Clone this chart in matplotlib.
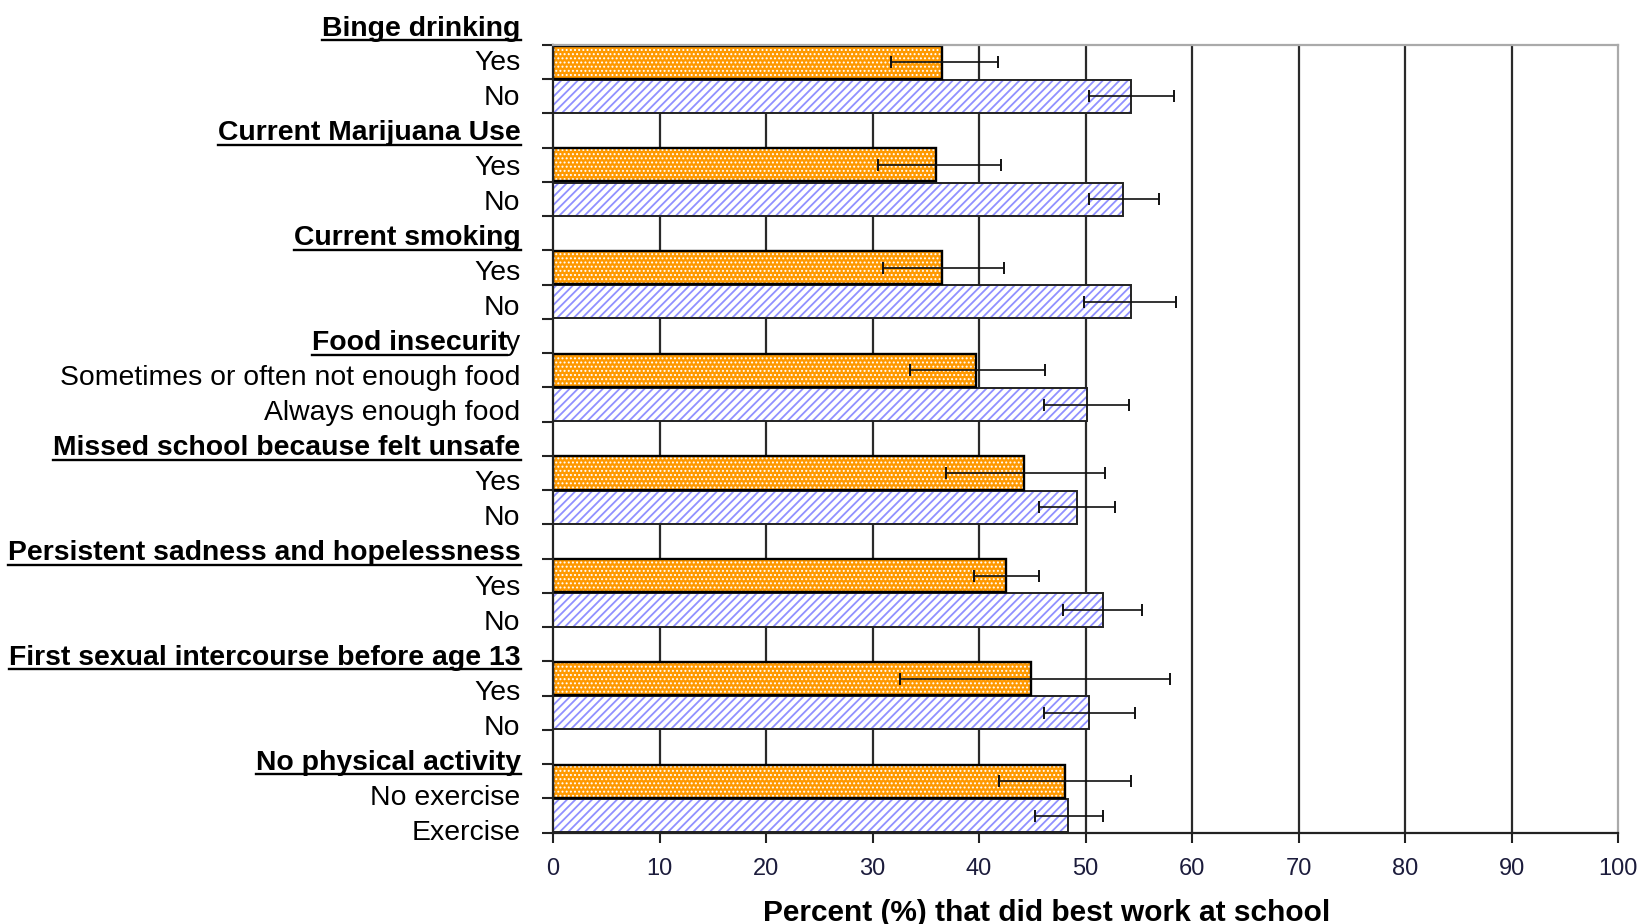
import matplotlib
matplotlib.use('Agg')
import matplotlib.pyplot as plt
from matplotlib.lines import Line2D
import numpy as np

# risk factor groups, the "at risk" answer and the "not at risk" answer
groups = ['Binge drinking', 'Current Marijuana Use', 'Current smoking',
          'Food insecurity', 'Missed school because felt unsafe',
          'Persistent sadness and hopelessness',
          'First sexual intercourse before age 13', 'No physical activity']
risk_labels = ['Yes', 'Yes', 'Yes', 'Sometimes or often not enough food',
               'Yes', 'Yes', 'Yes', 'No exercise']
norisk_labels = ['No', 'No', 'No', 'Always enough food',
                 'No', 'No', 'No', 'Exercise']

# percent that did best work at school, with 95% CI ends
risk_pct = [36.5, 36.0, 36.5, 39.7, 44.2, 42.5, 44.9, 48.1]
risk_lo = [31.7, 30.5, 31.0, 33.5, 36.9, 39.5, 32.6, 41.9]
risk_hi = [41.8, 42.1, 42.3, 46.2, 51.8, 45.6, 57.9, 54.3]
norisk_pct = [54.3, 53.5, 54.3, 50.1, 49.2, 51.6, 50.3, 48.4]
norisk_lo = [50.3, 50.3, 49.9, 46.1, 45.6, 47.9, 46.1, 45.3]
norisk_hi = [58.3, 56.9, 58.5, 54.1, 52.8, 55.3, 54.6, 51.6]

xticks = list(range(0, 101, 10))
xlabel = 'Percent (%) that did best work at school'

plt.rcParams['font.family'] = ['Liberation Sans', 'DejaVu Sans']

fig = plt.figure(figsize=(16.42, 9.24), dpi=100)
ax = fig.add_axes([0.3368, 0.0988, 0.6486, 0.8525])

n = len(groups)
y_yes = np.arange(n) * 3 + 0.5
y_no = y_yes + 1

risk_pct = np.array(risk_pct)
norisk_pct = np.array(norisk_pct)

# gridlines (behind bars)
for v in xticks[1:-1]:
    ax.axvline(v, color='#2a2a2a', lw=1.6, zorder=1)

h = 0.97
# orange dotted bars
with plt.rc_context({'hatch.linewidth': 0.9}):
    ax.barh(y_yes, risk_pct, height=h, color='#FF9900', edgecolor='white',
            hatch='....', lw=0, zorder=2)
ax.barh(y_yes, risk_pct, height=h, fill=False, edgecolor='black', lw=1.7, zorder=2.2)
# blue striped bars
with plt.rc_context({'hatch.linewidth': 1.3}):
    ax.barh(y_no, norisk_pct, height=h, color='white', edgecolor='#9090FF',
            hatch='////', lw=0, zorder=2)
ax.barh(y_no, norisk_pct, height=h, fill=False, edgecolor='#222222', lw=1.4, zorder=2.1)

ax.errorbar(risk_pct, y_yes,
            xerr=[risk_pct - np.array(risk_lo), np.array(risk_hi) - risk_pct],
            fmt='none', ecolor='#111111', elinewidth=1.2, capsize=4.5, capthick=1.4, zorder=3)
ax.errorbar(norisk_pct, y_no,
            xerr=[norisk_pct - np.array(norisk_lo), np.array(norisk_hi) - norisk_pct],
            fmt='none', ecolor='#111111', elinewidth=1.2, capsize=4.5, capthick=1.4, zorder=3)

ax.set_xlim(0, 100)
ax.set_ylim(3 * n - 1, 0)
ax.set_xticks(xticks)
ax.set_yticks(np.arange(0, 3 * n))
ax.set_yticklabels([])
ax.tick_params(axis='y', direction='out', length=8, width=1.5, color='#222222')
ax.tick_params(axis='x', direction='out', length=7, width=1.5, color='#222222',
               pad=11, labelsize=17, labelcolor='#1c1c3c')
for lab in ax.get_xticklabels():
    lab.set_family(['Liberation Sans Narrow', 'Liberation Sans'])

for side in ['left', 'bottom']:
    ax.spines[side].set_color('#222222')
    ax.spines[side].set_linewidth(1.6)
for side in ['top', 'right']:
    ax.spines[side].set_color('#aaaaaa')
    ax.spines[side].set_linewidth(1.6)

# category labels to the left of the axes, on their own slightly wider spacing
xr = 0.3170
fs = 20.4
row_top = 28.5 / 924
row_step = 34.97 / 924


def row_y(k):
    return 1 - row_top - k * row_step


heads = []
for i in range(n):
    fig.text(xr, row_y(3 * i + 1), risk_labels[i], ha='right', va='center', fontsize=fs)
    fig.text(xr, row_y(3 * i + 2), norisk_labels[i], ha='right', va='center', fontsize=fs)

fig.canvas.draw()
renderer = fig.canvas.get_renderer()
inv = fig.transFigure.inverted()
for i in range(n):
    name = groups[i]
    yy = row_y(3 * i)
    if name == 'Food insecurity':
        # the last letter is plain and not underlined in the original
        tail = fig.text(xr, yy, name[-1], ha='right', va='center', fontsize=fs)
        bb = tail.get_window_extent(renderer)
        xx = inv.transform((bb.x0 + 1, 0))[0]
        t = fig.text(xx, yy, name[:-1], ha='right', va='center', fontsize=fs,
                     fontweight='bold')
    else:
        t = fig.text(xr, yy, name, ha='right', va='center', fontsize=fs, fontweight='bold')
    heads.append(t)

fig.canvas.draw()
for t in heads:
    bb = t.get_window_extent(renderer)
    (x0, y0), (x1, _) = inv.transform([(bb.x0, bb.y0 + 1.5), (bb.x1, bb.y0 + 1.5)])
    fig.add_artist(Line2D([x0, x1], [y0, y0], color='black', lw=1.7,
                          transform=fig.transFigure))

fig.text(0.6376, 0.012, xlabel, ha='center', va='center', fontsize=21.5, fontweight='bold')

fig.savefig('out.png', dpi=100)
